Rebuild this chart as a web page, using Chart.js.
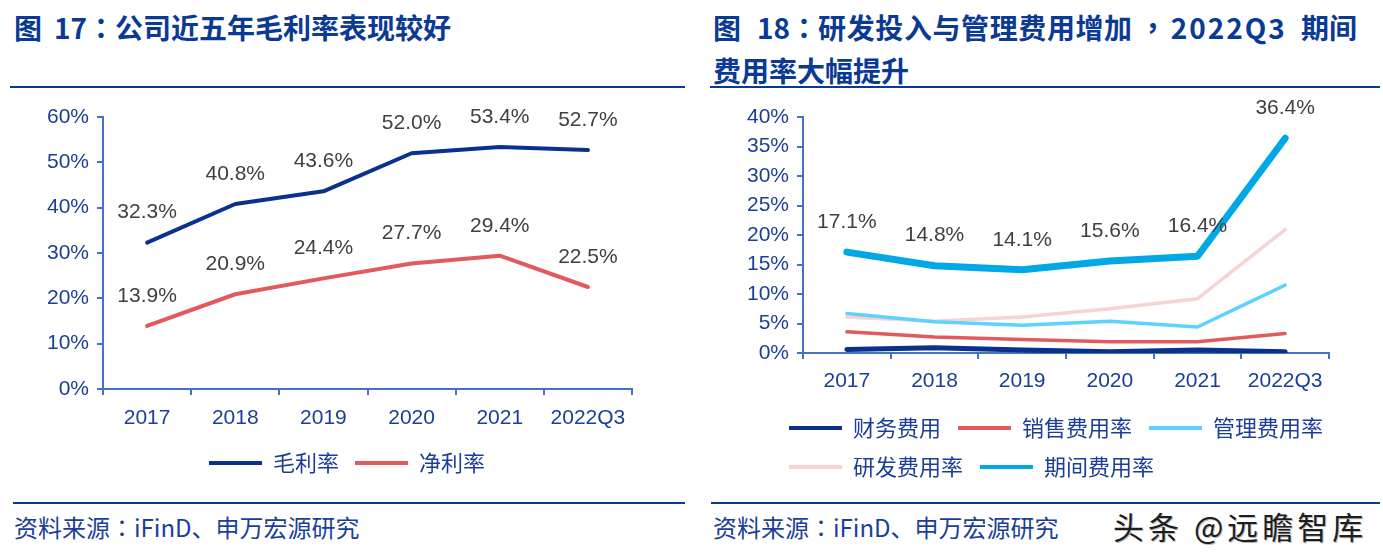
<!DOCTYPE html>
<html>
<head>
<meta charset="utf-8">
<script src="https://cdn.jsdelivr.net/npm/chart.js@4.4.1/dist/chart.umd.min.js"></script>
<style>
  body { margin: 0; background: #fff; width: 1383px; height: 559px; position: relative; overflow: hidden; }
  .title { position: absolute; font-family: "Noto Sans CJK SC", sans-serif; font-weight: bold; font-size: 28px; color: #0a3a94; line-height: 43px; white-space: pre; }
  .rule { position: absolute; height: 2px; background: #0a3a94; }
  .src { position: absolute; font-family: "Noto Sans CJK SC", sans-serif; font-size: 24px; color: #1b3f98; white-space: nowrap; line-height: 30px; }
  .mark { position: absolute; font-family: "Noto Sans CJK SC", sans-serif; font-size: 31px; color: #1e1e1e; letter-spacing: 4px; line-height: 36px; text-shadow: 1px 1px 0 #bbb; white-space: pre; }
  .box { position: absolute; }
  .p { font-family: "Noto Sans CJK TC", sans-serif; }
</style>
</head>
<body>
<div class="title" style="left:14px; top:6px;">图<span style="margin-left:12px">17</span><span class="p">：</span>公司近五年毛利率表现较好</div>
<div class="title" style="left:713px; top:6px;">图<span style="margin-left:16px">18</span><span class="p">：</span><span style="letter-spacing:0.6px">研发投入与管理费用增加</span><span class="p" style="margin-left:6px">，</span><span style="letter-spacing:2px; margin-left:4px">2022Q3</span><span style="margin-left:14px">期间</span><br>费用率大幅提升</div>
<div class="rule" style="left:10px; top:86px; width:675px;"></div>
<div class="rule" style="left:710px; top:86px; width:670px;"></div>

<div class="box" style="left:0; top:95px; width:690px; height:389px;"><canvas id="chartLeft"></canvas></div>
<div class="box" style="left:700px; top:95px; width:683px; height:393px;"><canvas id="chartRight"></canvas></div>

<div class="rule" style="left:13px; top:502px; width:672px;"></div>
<div class="rule" style="left:711px; top:502px; width:669px;"></div>
<div class="src" style="left:14px; top:512px;">资料来源<span class="p">：</span>iFinD、申万宏源研究</div>
<div class="src" style="left:713px; top:512px;">资料来源<span class="p">：</span>iFinD、申万宏源研究</div>
<div class="mark" style="left:1113px; top:508px;">头条 @远瞻智库</div>

<script>
// 数据
const years = ['2017', '2018', '2019', '2020', '2021', '2022Q3'];
const grossMargin = [32.3, 40.8, 43.6, 52.0, 53.4, 52.7];
const netMargin = [13.9, 20.9, 24.4, 27.7, 29.4, 22.5];
const leftTicks = [0, 10, 20, 30, 40, 50, 60];

const financeExp = [0.6, 0.9, 0.5, 0.2, 0.5, 0.2];
const salesExp = [3.6, 2.7, 2.3, 1.9, 1.9, 3.3];
const adminExp = [6.7, 5.3, 4.7, 5.4, 4.4, 11.5];
const rdExp = [6.1, 5.4, 6.1, 7.5, 9.2, 20.9];
const periodExp = [17.1, 14.8, 14.1, 15.6, 16.4, 36.4];
const rightTicks = [0, 5, 10, 15, 20, 25, 30, 35, 40];

const NAVY = '#0b318f';
const RED = '#e25a5c';
const SKY = '#00a9e6';
const LIGHT = '#5dd2ff';
const PINK = '#f8d3d3';
const AXIS = '#4472c4';
const TICK_TEXT = '#1b3f98';

Chart.defaults.font.family = '"Liberation Sans", Arial, sans-serif';
Chart.defaults.animation = false;

// 数据标签
const valueLabels = {
  id: 'valueLabels',
  afterDatasetsDraw(chart) {
    const ctx = chart.ctx;
    ctx.save();
    ctx.font = '21px "Liberation Sans", Arial, sans-serif';
    ctx.fillStyle = '#404040';
    ctx.textAlign = 'center';
    ctx.textBaseline = 'middle';
    chart.data.datasets.forEach((ds, i) => {
      if (!ds.showLabels) return;
      chart.getDatasetMeta(i).data.forEach((pt, j) => {
        ctx.fillText(ds.data[j].toFixed(1) + '%', pt.x, pt.y - 30);
      });
    });
    ctx.restore();
  }
};

// 图例水平偏移
const legendShift = {
  id: 'legendShift',
  afterLayout(chart, args, opts) {
    if (!opts.dx) return;
    chart.legend.left += opts.dx;
    chart.legend.right += opts.dx;
  }
};

function lineLabels(chart) {
  return Chart.defaults.plugins.legend.labels.generateLabels(chart).map(it => {
    it.fillStyle = it.strokeStyle;
    it.lineWidth = 0;
    return it;
  });
}

function makeOptions(ticks, yWidth, pad, xPad, legendPad, align, dx) {
  return {
    responsive: true,
    maintainAspectRatio: false,
    layout: { padding: pad },
    scales: {
      x: {
        offset: true,
        grid: { offset: true, drawOnChartArea: false, color: AXIS, lineWidth: 2, tickLength: 6 },
        border: { color: AXIS, width: 2 },
        ticks: { color: TICK_TEXT, font: { size: 21 }, padding: xPad, maxRotation: 0 },
        afterFit: s => { s.height = 47; }
      },
      y: {
        min: ticks[0],
        max: ticks[ticks.length - 1],
        grid: { drawOnChartArea: false, color: AXIS, lineWidth: 2, tickLength: 6 },
        border: { color: AXIS, width: 2 },
        ticks: { color: TICK_TEXT, font: { size: 21 }, padding: 8, callback: v => v + '%' },
        afterBuildTicks: s => { s.ticks = ticks.map(v => ({ value: v })); },
        afterFit: s => { s.width = yWidth; }
      }
    },
    plugins: {
      legend: {
        position: 'bottom',
        align: align,
        labels: {
          boxWidth: 53,
          boxHeight: 4,
          padding: legendPad,
          color: TICK_TEXT,
          font: { size: 22, family: '"Noto Sans CJK SC", sans-serif' },
          generateLabels: lineLabels
        }
      },
      legendShift: { dx: dx },
      tooltip: { enabled: false }
    }
  };
}

function series(label, data, color, width, showLabels) {
  return {
    label: label,
    data: data,
    borderColor: color,
    backgroundColor: color,
    borderWidth: width,
    pointRadius: 0,
    tension: 0,
    borderCapStyle: 'round',
    borderJoinStyle: 'round',
    showLabels: showLabels
  };
}

new Chart(document.getElementById('chartLeft'), {
  type: 'line',
  data: {
    labels: years,
    datasets: [
      series('毛利率', grossMargin, NAVY, 4, true),
      series('净利率', netMargin, RED, 4, true)
    ]
  },
  options: makeOptions(leftTicks, 103, { top: 22, right: 58, left: 0, bottom: 0 }, 11, 16, 'center', 31),
  plugins: [valueLabels, legendShift]
});

new Chart(document.getElementById('chartRight'), {
  type: 'line',
  data: {
    labels: years,
    datasets: [
      series('财务费用', financeExp, NAVY, 5, false),
      series('销售费用率', salesExp, RED, 3.5, false),
      series('管理费用率', adminExp, LIGHT, 3.5, false),
      series('研发费用率', rdExp, PINK, 3.5, false),
      series('期间费用率', periodExp, SKY, 7, true)
    ]
  },
  options: makeOptions(rightTicks, 103, { top: 22, right: 54, left: 0, bottom: 0 }, 10, 17, 'start', 72),
  plugins: [valueLabels, legendShift]
});
</script>
</body>
</html>
